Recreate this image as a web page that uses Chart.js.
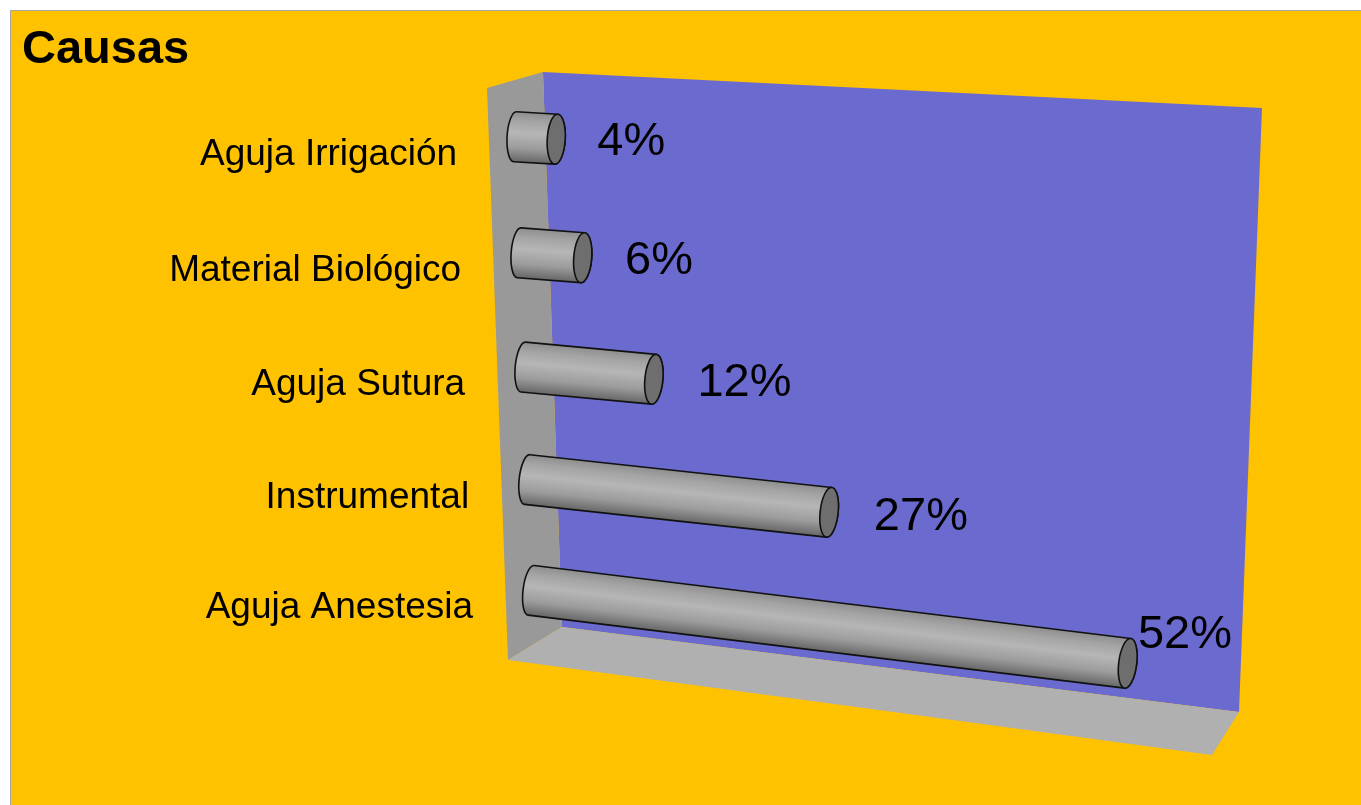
<!DOCTYPE html>
<html>
<head>
<meta charset="utf-8">
<script src="https://cdn.jsdelivr.net/npm/chart.js@4.4.1/dist/chart.umd.min.js"></script>
<style>
  html, body { margin: 0; padding: 0; background: #fff; }
  #chart { display: block; }
</style>
</head>
<body>
<canvas id="chart" width="1361" height="805"></canvas>
<script>
const categories = ["Aguja Irrigación", "Material Biológico", "Aguja Sutura", "Instrumental", "Aguja Anestesia"];
const percentValues = [4, 6, 12, 27, 52];
const axisMax = 60;

const FONT = "'Liberation Sans', Arial, sans-serif";

// 3D frame of the plot (screen coords of the walls)
const backWall = [[543, 72], [1262, 108], [1239, 712], [562, 627]];
const leftWall = [[487, 88], [543, 72], [562, 627], [508, 660]];
const floorWall = [[508, 660], [562, 627], [1239, 712], [1212, 755]];
// plane the cylinders lie in: chart area corners -> screen
const barPlane = { tl: [513, 78], tr: [1121, 109], br: [1230, 735], bl: [533, 645] };
const bend = 0.04; // slight vertical foreshortening

function project(chart, px, py) {
  const a = chart.chartArea;
  const u = (px - a.left) / (a.right - a.left);
  let v = (py - a.top) / (a.bottom - a.top);
  v = v * (1 + bend) / (1 + bend * v);
  const p = barPlane;
  const lx = p.tl[0] + (p.bl[0] - p.tl[0]) * v, ly = p.tl[1] + (p.bl[1] - p.tl[1]) * v;
  const rx = p.tr[0] + (p.br[0] - p.tr[0]) * v, ry = p.tr[1] + (p.br[1] - p.tr[1]) * v;
  return { x: lx + (rx - lx) * u, y: ly + (ry - ly) * u };
}

function fillPoly(ctx, pts, color) {
  ctx.beginPath();
  ctx.moveTo(pts[0][0], pts[0][1]);
  pts.slice(1).forEach(p => ctx.lineTo(p[0], p[1]));
  ctx.closePath();
  ctx.fillStyle = color;
  ctx.fill();
}

const scenePlugin = {
  id: "scene",
  beforeDraw(chart) {
    const ctx = chart.ctx;
    ctx.save();
    ctx.fillStyle = "#ffffff";
    ctx.fillRect(0, 0, chart.width, chart.height);
    ctx.fillStyle = "#a6a6a6";
    ctx.fillRect(10, 10, chart.width - 10, chart.height - 10);
    ctx.fillStyle = "#ffc200";
    ctx.fillRect(11, 11, chart.width - 11, chart.height - 11);
    ctx.restore();
  },
  beforeDatasetsDraw(chart) {
    const ctx = chart.ctx;
    ctx.save();
    fillPoly(ctx, backWall, "#6b6bcf");
    fillPoly(ctx, leftWall, "#999999");
    fillPoly(ctx, floorWall, "#b0b0b0");
    ctx.restore();
  },
  afterDatasetsDraw(chart) {
    const ctx = chart.ctx;
    const meta = chart.getDatasetMeta(0);
    const r = 25, capL = 8, capR = 9;
    ctx.save();
    meta.data.forEach((bar, i) => {
      const L = project(chart, bar.base, bar.y);
      const E = project(chart, bar.x, bar.y);
      const th = Math.atan2(E.y - L.y, E.x - L.x);
      const ox = r * Math.sin(th), oy = -r * Math.cos(th);

      // category label
      ctx.fillStyle = "#000";
      ctx.font = "37px " + FONT;
      ctx.textAlign = "right";
      ctx.textBaseline = "middle";
      ctx.fillText(categories[i], L.x - 58, L.y + 18);

      // cylinder body
      const grad = ctx.createLinearGradient(L.x + ox, L.y + oy, L.x - ox, L.y - oy);
      grad.addColorStop(0, "#8e8e8e");
      grad.addColorStop(0.18, "#a4a4a4");
      grad.addColorStop(0.42, "#b6b6b6");
      grad.addColorStop(0.72, "#9c9c9c");
      grad.addColorStop(1, "#666666");
      ctx.beginPath();
      ctx.moveTo(L.x + ox, L.y + oy);
      ctx.lineTo(E.x + ox, E.y + oy);
      ctx.ellipse(E.x, E.y, capR, r, th, -Math.PI / 2, Math.PI / 2);
      ctx.lineTo(L.x - ox, L.y - oy);
      ctx.ellipse(L.x, L.y, capL, r, th, Math.PI / 2, Math.PI * 1.5);
      ctx.closePath();
      ctx.fillStyle = grad;
      ctx.fill();
      ctx.lineWidth = 1.6;
      ctx.strokeStyle = "#111";
      ctx.stroke();

      // end cap
      ctx.beginPath();
      ctx.ellipse(E.x, E.y, capR, r, th, 0, Math.PI * 2);
      ctx.fillStyle = "#6e6e6e";
      ctx.fill();
      ctx.stroke();

      // value label
      const txt = percentValues[i] + "%";
      ctx.font = "47px " + FONT;
      ctx.textAlign = "left";
      const w = ctx.measureText(txt).width;
      const xs = chart.scales.x;
      const P = project(chart, xs.getPixelForValue(percentValues[i] + 4), bar.y);
      let lx = P.x, ly = P.y;
      const maxX = 1232;
      if (lx + w > maxX) {
        lx = maxX - w;
        ly = E.y - r - 3;
      }
      ctx.fillStyle = "#000";
      ctx.fillText(txt, lx, ly);
    });
    ctx.restore();
  }
};

new Chart(document.getElementById("chart"), {
  type: "bar",
  data: {
    labels: categories,
    datasets: [{
      data: percentValues,
      backgroundColor: "rgba(0,0,0,0)",
      borderWidth: 0
    }]
  },
  options: {
    indexAxis: "y",
    responsive: false,
    animation: false,
    layout: { padding: { top: 22, left: 22, right: 20, bottom: 20 } },
    scales: {
      x: { display: false, min: 0, max: axisMax },
      y: { display: false }
    },
    plugins: {
      legend: { display: false },
      tooltip: { enabled: false },
      title: {
        display: true,
        text: "Causas",
        align: "start",
        color: "#000",
        font: { family: FONT, size: 47, weight: "bold" },
        padding: { top: 0, bottom: 10 }
      }
    }
  },
  plugins: [scenePlugin]
});
</script>
</body>
</html>
